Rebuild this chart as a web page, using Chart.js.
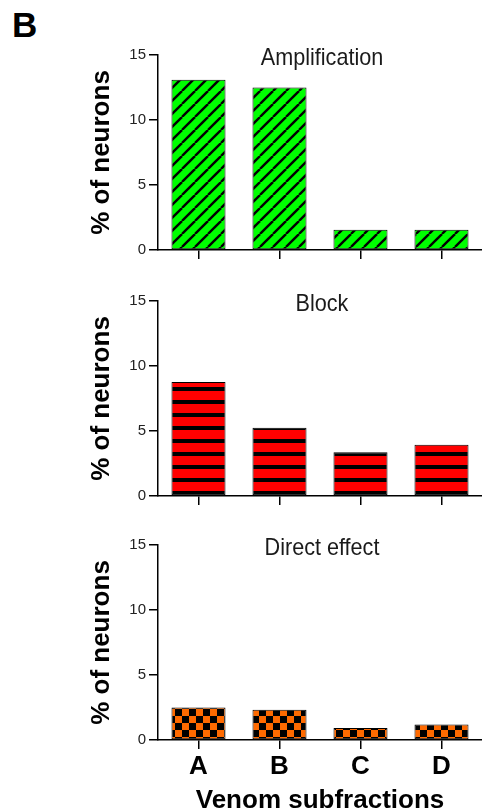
<!DOCTYPE html>
<html>
<head>
<meta charset="utf-8">
<script src="https://cdn.jsdelivr.net/npm/chart.js@4"></script>
<style>
  html, body { margin:0; padding:0; background:#fff; overflow:hidden; width:482px; height:811px; }
  .panel { position:absolute; left:0; }
  #lbl { position:absolute; left:12px; top:7px; font:bold 35px "Liberation Sans", Arial, sans-serif; line-height:35px; color:#000; }
</style>
</head>
<body>
<div id="lbl">B</div>
<canvas id="c1" class="panel" style="top:0px" width="482" height="270"></canvas>
<canvas id="c2" class="panel" style="top:270px" width="482" height="250"></canvas>
<canvas id="c3" class="panel" style="top:520px" width="482" height="300"></canvas>
<script>
// ---- data ----
const categories = ['A', 'B', 'C', 'D'];
const amplification = [13.1, 12.5, 1.55, 1.55];
const block = [8.77, 5.25, 3.36, 3.95];
const directEffect = [2.5, 2.32, 0.92, 1.2];
const panelTitles = ['Amplification', 'Block', 'Direct effect'];
const yTicks = [0, 5, 10, 15];
const yTitle = '% of neurons';
const xTitle = 'Venom subfractions';

const FONT = '"Liberation Sans", Arial, Helvetica, sans-serif';

// ---- fill patterns ----
function makePattern(w, h, draw) {
  const c = document.createElement('canvas');
  c.width = w; c.height = h;
  const g = c.getContext('2d');
  draw(g, w, h);
  return g.createPattern(c, 'repeat');
}
const ctxTmp = document.createElement('canvas').getContext('2d');
const greenStripes = makePattern(13, 13, (g, w, h) => {
  g.fillStyle = '#00ff00'; g.fillRect(0, 0, w, h);
  g.strokeStyle = '#000'; g.lineWidth = 2.4;
  for (let k = -1; k <= 1; k++) {
    g.beginPath(); g.moveTo(k * w, h); g.lineTo(k * w + w, 0); g.stroke();
  }
});
const redStripes = makePattern(13, 13, (g, w, h) => {
  g.fillStyle = '#ff0000'; g.fillRect(0, 0, w, h);
  g.fillStyle = '#000'; g.fillRect(0, 0, w, 4);
});
const orangeChecker = makePattern(14, 14, (g, w, h) => {
  g.fillStyle = '#ff6a00'; g.fillRect(0, 0, w, h);
  g.fillStyle = '#000'; g.fillRect(0, 0, 7, 7); g.fillRect(7, 7, 7, 7);
});

// ---- panel title plugin ----
const panelTitlePlugin = {
  id: 'panelTitle',
  afterDraw(chart, args, opts) {
    const { ctx, chartArea } = chart;
    ctx.save();
    ctx.font = '24px ' + FONT;
    ctx.fillStyle = '#1a1a1a';
    ctx.textAlign = 'center';
    ctx.textBaseline = 'alphabetic';
    ctx.translate((chartArea.left + chartArea.right) / 2 + 2, chartArea.top + 10);
    ctx.scale(0.9, 1);
    ctx.fillText(opts.text, 0, 0);
    ctx.restore();
  }
};

function makeChart(id, values, fill, title, padTop, xHeight, showX) {
  return new Chart(document.getElementById(id), {
    type: 'bar',
    data: {
      labels: categories,
      datasets: [{
        data: values,
        backgroundColor: fill,
        borderColor: '#000',
        borderWidth: 1,
        borderSkipped: false,
        barPercentage: 0.667,
        categoryPercentage: 1.0
      }]
    },
    options: {
      responsive: false,
      animation: false,
      devicePixelRatio: 1,
      layout: { padding: { top: padTop, left: 0, right: 0, bottom: 0 } },
      plugins: {
        legend: { display: false },
        tooltip: { enabled: false },
        panelTitle: { text: title }
      },
      scales: {
        y: {
          min: 0, max: 15,
          afterBuildTicks: s => { s.ticks = yTicks.map(v => ({ value: v })); },
          afterFit: s => { s.width = 158; },
          ticks: { color: '#222', font: { size: 15, family: FONT }, padding: 3 },
          grid: { drawOnChartArea: false, drawTicks: true, tickLength: 9, color: '#000', lineWidth: 1.5 },
          border: { display: true, color: '#000', width: 1.5 },
          title: {
            display: true, text: yTitle, color: '#000',
            font: { size: 26, weight: 'bold', family: FONT, lineHeight: 1.2 },
            padding: { top: 86, bottom: 0 }
          }
        },
        x: {
          afterFit: s => { s.height = xHeight; },
          ticks: { display: showX, color: '#000', font: { size: 26, weight: 'bold', family: FONT }, padding: 2 },
          grid: { offset: false, drawOnChartArea: false, drawTicks: true, tickLength: 9, color: '#000', lineWidth: 1.5 },
          border: { display: true, color: '#000', width: 1.5 },
          title: {
            display: showX, text: xTitle, color: '#000',
            font: { size: 26, weight: 'bold', family: FONT, lineHeight: 1.2 },
            padding: { top: 0, bottom: 4 }
          }
        }
      }
    },
    plugins: [panelTitlePlugin]
  });
}

makeChart('c1', amplification, greenStripes, panelTitles[0], 55, 20, false);
makeChart('c2', block, redStripes, panelTitles[1], 31, 24, false);
makeChart('c3', directEffect, orangeChecker, panelTitles[2], 25, 80, true);
</script>
</body>
</html>
